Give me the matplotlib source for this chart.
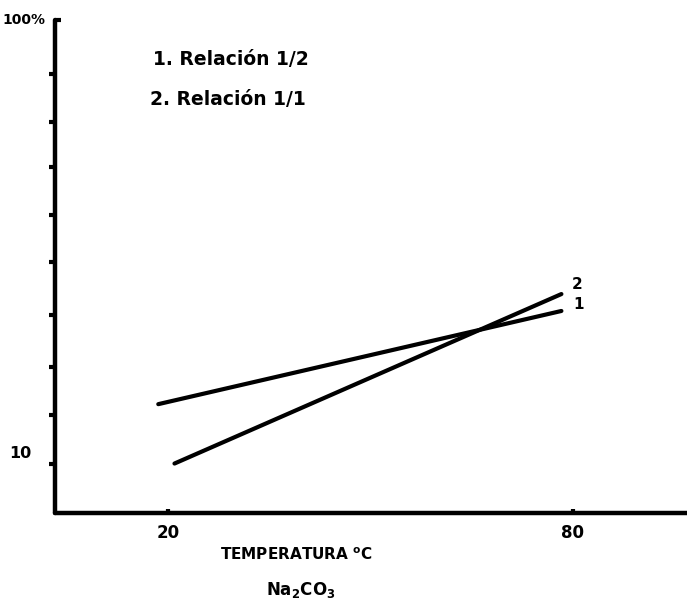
import numpy as np
from matplotlib import pyplot as plt

# Rendimiento (%) frente a temperatura, Na2CO3
temp_1 = np.array([18.6, 78.3])   # Relación 1/2
rend_1 = np.array([12.9, 21.2])
temp_2 = np.array([21.0, 78.3])   # Relación 1/1
rend_2 = np.array([9.4, 23.2])

x_ticks = [20, 80]
y_major = [10, 100]
y_major_labels = ['10', '100%']
y_minor = [9.4, 12.2, 15.7, 20.8, 27.5, 35.4, 45.7, 58.1, 75.0]
legend_lines = ['1. Relación 1/2', '2. Relación 1/1']

plt.rcParams['font.family'] = 'DejaVu Sans'
plt.rcParams['font.weight'] = 'bold'

fig = plt.figure(figsize=(6.87, 6.05), dpi=100)
ax = fig.add_axes([0.080, 0.152, 0.92, 0.815])

ax.plot(temp_1, rend_1, color='black', lw=3.0, solid_capstyle='round')
ax.plot(temp_2, rend_2, color='black', lw=3.0, solid_capstyle='round')
ax.annotate('1', (temp_1[-1], rend_1[-1]), xytext=(12, 5), textcoords='offset points',
            ha='center', va='center', fontsize=11, fontweight='bold')
ax.annotate('2', (temp_2[-1], rend_2[-1]), xytext=(11, 7), textcoords='offset points',
            ha='center', va='center', fontsize=11, fontweight='bold')

ax.set_yscale('log')
ax.set_ylim(7.22, 100)
ax.set_xlim(3.3, 96.9)

for s in ['top', 'right']:
    ax.spines[s].set_visible(False)
for s in ['left', 'bottom']:
    ax.spines[s].set_linewidth(3.2)
    ax.spines[s].set_capstyle('round')

ax.set_xticks(x_ticks)
ax.set_xticklabels([str(t) for t in x_ticks], fontsize=12, fontweight='bold')
ax.tick_params(axis='x', direction='in', length=3, width=3, pad=8)

ax.set_yticks(y_major)
ax.set_yticklabels(y_major_labels, fontweight='bold')
ax.set_yticks(y_minor, minor=True)
ax.yaxis.set_minor_formatter(plt.NullFormatter())
ax.tick_params(axis='y', which='major', direction='in', length=4, width=3)
ax.tick_params(axis='y', which='minor', direction='out', length=4, width=3)
ticks = ax.yaxis.get_major_ticks()
ticks[0].tick1line.set_visible(False)
ticks[0].set_pad(17)
ticks[0].label1.set_fontsize(11.5)
ticks[1].set_pad(7)
ticks[1].label1.set_fontsize(10)
ticks[1].label1.set_va('center')

ax.text(0.155, 0.919, legend_lines[0], transform=ax.transAxes, fontsize=13.5,
        fontweight='bold', va='center')
ax.text(0.150, 0.838, legend_lines[1], transform=ax.transAxes, fontsize=13.5,
        fontweight='bold', va='center')

fig.text(0.431, 0.083, r'TEMPERATURA $^{\mathbf{o}}$C', ha='center', va='center',
         fontsize=11, fontweight='bold')
fig.text(0.438, 0.025, r'$\mathbf{Na_2CO_3}$', ha='center', va='center', fontsize=12)

plt.savefig('out.png', dpi=100)
